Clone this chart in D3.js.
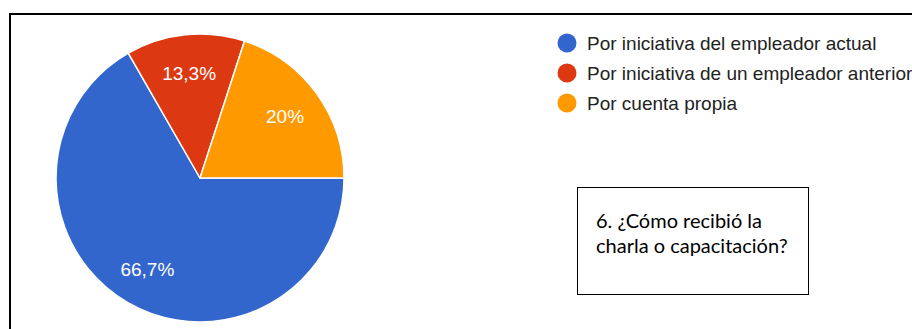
<!DOCTYPE html>
<html>
<head>
<meta charset="utf-8">
<script src="https://cdn.jsdelivr.net/npm/d3@7"></script>
<style>
  html, body { margin: 0; padding: 0; background: #fff; }
  svg { display: block; }
</style>
</head>
<body>
<svg id="chart" width="912" height="329"></svg>
<script>
// Survey answers for question 6
const categories = [
  "Por iniciativa del empleador actual",
  "Por iniciativa de un empleador anterior",
  "Por cuenta propia"
];
const values = [66.7, 13.3, 20];
const valueLabels = ["66,7%", "13,3%", "20%"];
const colors = ["#3366cc", "#dc3912", "#ff9900"];
const questionLines = ["6. ¿Cómo recibió la", "charla o capacitación?"];

const svg = d3.select("#chart");

// Frame around the figure (top and left edges visible)
svg.append("path")
  .attr("d", "M10,329 L10,14 L912,14")
  .attr("fill", "none")
  .attr("stroke", "#000")
  .attr("stroke-width", 2);

// Pie
const cx = 200, cy = 178, radius = 144;
const pie = d3.pie()
  .sort(null)
  .value(d => d.value)
  .startAngle(Math.PI / 2)
  .endAngle(Math.PI / 2 + 2 * Math.PI);

const data = categories.map((c, i) => ({ name: c, value: values[i], label: valueLabels[i], color: colors[i] }));
const arcs = pie(data);

const arc = d3.arc().innerRadius(0).outerRadius(radius);
const labelArc = d3.arc().innerRadius(radius * 0.73).outerRadius(radius * 0.73);

const g = svg.append("g").attr("transform", `translate(${cx},${cy})`);

g.selectAll("path.slice")
  .data(arcs)
  .join("path")
  .attr("class", "slice")
  .attr("d", arc)
  .attr("fill", d => d.data.color)
  .attr("stroke", "#fff")
  .attr("stroke-width", 1.5)
  .attr("stroke-linejoin", "round");

g.selectAll("text.pct")
  .data(arcs)
  .join("text")
  .attr("class", "pct")
  .attr("transform", d => `translate(${labelArc.centroid(d)})`)
  .attr("text-anchor", "middle")
  .attr("dy", "0.35em")
  .attr("fill", "#fff")
  .style("font-family", "'Liberation Sans', Arial, sans-serif")
  .style("font-size", "19px")
  .text(d => d.data.label);

// Legend
const legendY = d3.scalePoint().domain(categories).range([43, 103]);
const legend = svg.append("g");
const item = legend.selectAll("g")
  .data(data)
  .join("g")
  .attr("transform", d => `translate(567,${legendY(d.name)})`);

item.append("circle")
  .attr("r", 9.5)
  .attr("fill", d => d.color);

item.append("text")
  .attr("x", 20)
  .attr("y", 6.5)
  .attr("fill", "#222")
  .style("font-family", "'Liberation Sans', Arial, sans-serif")
  .style("font-size", "19px")
  .text(d => d.name);

// Question text box
svg.append("rect")
  .attr("x", 577.5).attr("y", 187.5)
  .attr("width", 231).attr("height", 107)
  .attr("fill", "#fff")
  .attr("stroke", "#000")
  .attr("stroke-width", 1);

svg.append("g")
  .selectAll("text")
  .data(questionLines)
  .join("text")
  .attr("x", 596)
  .attr("y", (d, i) => 228 + i * 25)
  .attr("fill", "#000")
  .style("font-family", "Lato, 'Open Sans', sans-serif")
  .style("font-size", "20px")
  .text(d => d);
</script>
</body>
</html>
